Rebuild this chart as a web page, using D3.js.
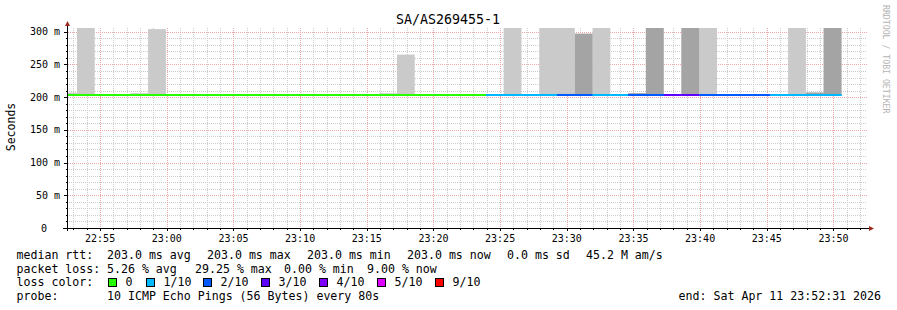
<!DOCTYPE html>
<html><head><meta charset="utf-8">
<script src="https://cdn.jsdelivr.net/npm/d3@7"></script>
<style>
html,body{margin:0;padding:0;background:#fff;}
svg text{font-family:"DejaVu Sans Mono",monospace;white-space:pre;}
</style></head>
<body>
<svg id="chart" width="897" height="310"></svg>
<script>
// ---------- data ----------
const title = "SA/AS269455-1";
const sampleTimes = ["22:51:56","22:53:16","22:54:36","22:55:56","22:57:16","22:58:36","22:59:56","23:01:16","23:02:36","23:03:56",
  "23:05:16","23:06:36","23:07:56","23:09:16","23:10:36","23:11:56","23:13:16","23:14:36","23:15:56","23:17:16",
  "23:18:36","23:19:56","23:21:16","23:22:36","23:23:56","23:25:16","23:26:36","23:27:56","23:29:16","23:30:36",
  "23:31:56","23:33:16","23:34:36","23:35:56","23:37:16","23:38:36","23:39:56","23:41:16","23:42:36","23:43:56",
  "23:45:16","23:46:36","23:47:56","23:49:16"];
const medianRtt = [0.203,0.203,0.203,0.203,0.203,0.203,0.203,0.203,0.203,0.203,
  0.203,0.203,0.203,0.203,0.203,0.203,0.203,0.203,0.203,0.203,
  0.203,0.203,0.203,0.203,0.203,0.203,0.203,0.203,0.203,0.203,
  0.203,0.203,0.203,0.203,0.203,0.203,0.203,0.203,0.203,0.203,
  0.203,0.203,0.203,0.203];
const lossCount = [0,0,0,0,0,0,0,0,0,0, 0,0,0,0,0,0,0,0,0,0, 0,0,0,0,1,1,1,1,2,2, 1,1,2,2,3,3,2,2,2,2, 1,1,1,1];
// outer smoke band (max ping) and inner smoke band tops, seconds
const smokeOuter = [0.207,0.310,null,null,0.206,0.304,null,null,null,null,
  null,null,null,null,null,null,null,null,0.206,0.265,
  null,null,null,null,null,0.310,null,0.310,0.310,0.297,
  0.310,null,0.206,0.310,null,0.310,0.310,null,null,null,
  null,0.310,0.207,0.310];
const smokeInner = [null,null,null,null,null,null,null,null,null,null,
  null,null,null,null,null,null,null,null,null,null,
  null,null,null,null,null,null,null,null,0.205,0.297,
  null,null,0.206,0.310,null,0.310,null,null,null,null,
  null,null,0.207,0.310];
const stepSeconds = 80;
const yTickValues = [0,0.05,0.1,0.15,0.2,0.25,0.3];
const yTickLabels = ["0","50 m","100 m","150 m","200 m","250 m","300 m"];
const xTickLabels = ["22:55","23:00","23:05","23:10","23:15","23:20","23:25","23:30","23:35","23:40","23:45","23:50"];
const lossLabels = ["0","1/10","2/10","3/10","4/10","5/10","9/10"];
const lossColors = ["#26ff00","#00b8ff","#0059ff","#5e00ff","#7e00ff","#dd00ff","#ff0000"];
const startTime = "22:52:31", endTime = "23:52:31";
const legendMedian = ["median rtt:","203.0 ms avg","203.0 ms max","203.0 ms min","203.0 ms now","0.0 ms sd","45.2 M am/s"];
const legendLoss = ["packet loss:","5.26 % avg","29.25 % max","0.00 % min","9.00 % now"];
const probeText = ["probe:","10 ICMP Echo Pings (56 Bytes) every 80s"];
const endText = "end: Sat Apr 11 23:52:31 2026";
const watermark = "RRDTOOL / TOBI OETIKER";

// ---------- helpers ----------
function toDate(s){const p=s.split(":").map(Number);return new Date(2026,3,11,p[0],p[1],p[2]||0);}
const svg = d3.select("#chart");
const L=67,R=867,T=28,B=228;
const x = d3.scaleTime().domain([toDate(startTime),toDate(endTime)]).range([L,R]);
const y = d3.scaleLinear().domain([0,0.3057]).range([B,T]);

svg.append("defs").append("clipPath").attr("id","plotclip")
  .append("rect").attr("x",L).attr("y",T).attr("width",R-L).attr("height",B-T);

// ---------- grid ----------
const grid = svg.append("g");
const minorX = d3.timeMinute.every(1).range(x.domain()[0], x.domain()[1]);
grid.selectAll(".vmin").data(minorX.filter(d=>d.getMinutes()%5!==0)).join("line")
  .attr("x1",d=>Math.round(x(d))+0.5).attr("x2",d=>Math.round(x(d))+0.5).attr("y1",T).attr("y2",B)
  .attr("stroke","#cccccc").attr("stroke-dasharray","1,1");
const minorY = d3.range(0,0.3051,0.01);
grid.selectAll(".hmin").data(minorY.filter((d,i)=>i%5!==0)).join("line")
  .attr("x1",L).attr("x2",R).attr("y1",d=>Math.round(y(d))+0.5).attr("y2",d=>Math.round(y(d))+0.5)
  .attr("stroke","#cccccc").attr("stroke-dasharray","1,1");
const majorX = xTickLabels.map(toDate);
grid.selectAll(".vmaj").data(majorX).join("line")
  .attr("x1",d=>Math.round(x(d))+0.5).attr("x2",d=>Math.round(x(d))+0.5).attr("y1",T).attr("y2",B+3)
  .attr("stroke","#f2a6a6").attr("stroke-dasharray","1,1");
grid.selectAll(".hmaj").data(yTickValues.slice(1)).join("line")
  .attr("x1",L-3).attr("x2",R).attr("y1",d=>Math.round(y(d))+0.5).attr("y2",d=>Math.round(y(d))+0.5)
  .attr("stroke","#f2a6a6").attr("stroke-dasharray","1,1");

// ---------- smoke ----------
const plot = svg.append("g").attr("clip-path","url(#plotclip)");
const samples = sampleTimes.map((t,i)=>({t0:toDate(t),t1:new Date(toDate(t).getTime()+stepSeconds*1000),
  med:medianRtt[i],loss:lossCount[i],outer:smokeOuter[i],inner:smokeInner[i]}));
plot.selectAll(".outer").data(samples.filter(d=>d.outer!=null)).join("rect")
  .attr("x",d=>x(d.t0)).attr("width",d=>x(d.t1)-x(d.t0))
  .attr("y",d=>y(d.outer)).attr("height",d=>y(d.med)-y(d.outer)).attr("fill","#cacaca");
plot.selectAll(".inner").data(samples.filter(d=>d.inner!=null)).join("rect")
  .attr("x",d=>x(d.t0)).attr("width",d=>x(d.t1)-x(d.t0))
  .attr("y",d=>y(d.inner)).attr("height",d=>y(d.med)-y(d.inner)).attr("fill","#a4a4a4");

// ---------- median line coloured by loss ----------
function lossIndex(n){if(n<=0)return 0;if(n<5)return n;if(n<9)return 5;return 6;}
plot.selectAll(".med").data(samples).join("rect")
  .attr("x",d=>x(d.t0)).attr("width",d=>x(d.t1)-x(d.t0)+0.3)
  .attr("y",d=>Math.round(y(d.med))-1).attr("height",2)
  .attr("fill",d=>lossColors[lossIndex(d.loss)]);

// ---------- axes ----------
const ax = svg.append("g");
ax.append("line").attr("x1",L+0.5).attr("x2",L+0.5).attr("y1",B+3).attr("y2",T-4).attr("stroke","#000");
ax.append("line").attr("x1",L-4).attr("x2",R+2).attr("y1",B+0.5).attr("y2",B+0.5).attr("stroke","#000");
ax.append("path").attr("d",`M${L-2},${T-2} L${L+3},${T-2} L${L+0.5},${T-7} Z`).attr("fill","#9c2a1a");
ax.append("path").attr("d",`M${R+2},${B-2} L${R+2},${B+3} L${R+7},${B+0.5} Z`).attr("fill","#9c2a1a");
// minor x ticks
ax.selectAll(".xt").data(minorX).join("line")
  .attr("x1",d=>Math.round(x(d))+0.5).attr("x2",d=>Math.round(x(d))+0.5)
  .attr("y1",B).attr("y2",d=>d.getMinutes()%5===0?B+3:B+2).attr("stroke","#000");
// y ticks
ax.selectAll(".yt").data(yTickValues).join("line")
  .attr("x1",L-3).attr("x2",L).attr("y1",d=>Math.round(y(d))+0.5).attr("y2",d=>Math.round(y(d))+0.5).attr("stroke","#000");
ax.selectAll(".ytm").data(minorY).join("line")
  .attr("x1",L-1).attr("x2",L).attr("y1",d=>Math.round(y(d))+0.5).attr("y2",d=>Math.round(y(d))+0.5).attr("stroke","#000");

ax.selectAll(".yl").data(yTickValues).join("text")
  .attr("x",(d,i)=>yTickLabels[i].indexOf(" ")<0?47:60).attr("y",d=>y(d)+3.5)
  .attr("text-anchor","end").attr("font-size","10px").attr("fill","#000")
  .text((d,i)=>yTickLabels[i]);
ax.selectAll(".xl").data(xTickLabels).join("text")
  .attr("x",d=>x(toDate(d))).attr("y",242).attr("text-anchor","middle")
  .attr("font-size","10px").attr("fill","#000").text(d=>d);

// ---------- titles ----------
svg.append("text").attr("x",448).attr("y",24).attr("text-anchor","middle")
  .attr("font-size","13.3px").attr("fill","#000").text(title);
svg.append("text").attr("transform","translate(15,127) rotate(-90)").attr("text-anchor","middle")
  .attr("font-size","11.5px").attr("fill","#000").text("Seconds");
svg.append("text").attr("transform","translate(883,5) rotate(90)").attr("text-anchor","start")
  .attr("font-size","8.2px").attr("fill","#b4b4b4").text(watermark);

// ---------- legend ----------
const fs="11.6px";
const lg = svg.append("g").attr("font-size",fs).attr("fill","#000");
const medX=[16.5,107,207,307,407,507,586];
legendMedian.forEach((s,i)=>lg.append("text").attr("x",medX[i]).attr("y",258.5).text(s));
const lossX=[16.5,107,195,284,367];
legendLoss.forEach((s,i)=>lg.append("text").attr("x",lossX[i]).attr("y",272.5).text(s));
lg.append("text").attr("x",16.5).attr("y",286).text("loss color:");
const swX=[108.5,146.5,203.5,261.5,319.5,377.5,435.5];
lossLabels.forEach((s,i)=>{
  lg.append("rect").attr("x",swX[i]).attr("y",278.5).attr("width",8).attr("height",8)
    .attr("fill",lossColors[i]).attr("stroke","#000").attr("stroke-width",1);
  lg.append("text").attr("x",swX[i]+17).attr("y",286).text(s);
});
lg.append("text").attr("x",16.5).attr("y",300).text(probeText[0]);
lg.append("text").attr("x",107).attr("y",300).text(probeText[1]);
lg.append("text").attr("x",881).attr("y",300).attr("text-anchor","end").text(endText);
</script>
</body></html>
